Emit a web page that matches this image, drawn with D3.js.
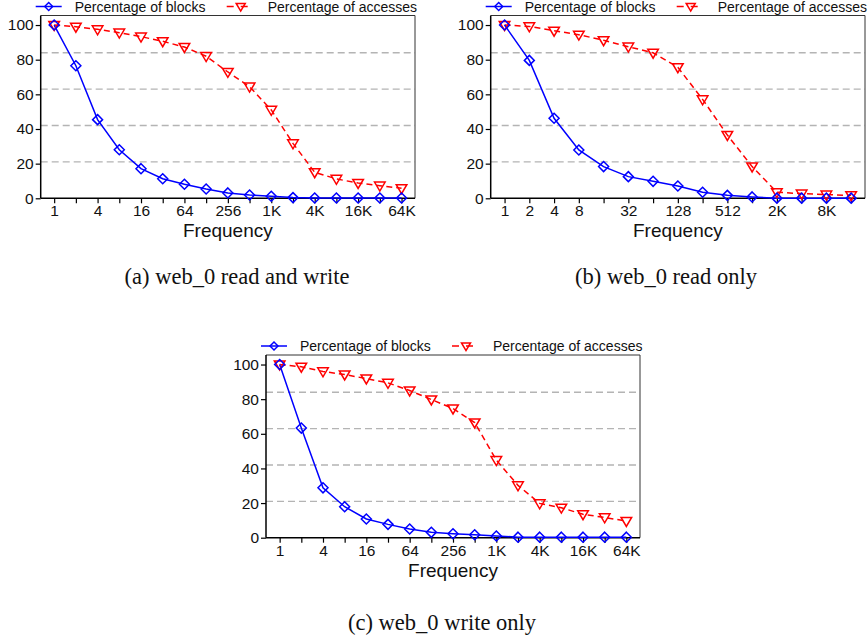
<!DOCTYPE html>
<html>
<head>
<meta charset="utf-8">
<script src="https://cdn.jsdelivr.net/npm/d3@7"></script>
<style>
  html, body { margin: 0; padding: 0; background: #fff; }
  svg { display: block; }
</style>
</head>
<body>
<svg id="chart" width="868" height="638"></svg>
<script>
// ---------------- DATA ----------------
const freqAC = ["1","2","4","8","16","32","64","128","256","512","1K","2K","4K","8K","16K","32K","64K"];
const tickLabelsAC = ["1","4","16","64","256","1K","4K","16K","64K"];
const freqB = ["1","2","4","8","16","32","64","128","256","512","1K","2K","4K","8K","16K"];
const tickLabelsB = ["1","2","4","8","32","128","512","2K","8K"];

const blocksA   = [100, 76.5, 45.4, 28, 17.1, 11.3, 8.1, 5.4, 3.1, 1.9, 1.2, 0.4, 0.2, 0.2, 0.2, 0.2, 0.2];
const accessesA = [100, 99, 97.5, 95.6, 93.3, 90.6, 87.3, 82, 72.9, 64.4, 51, 31.7, 15, 11.2, 8.8, 7.3, 5.8];

const blocksB   = [100, 79.6, 46.2, 27.9, 18.3, 12.5, 9.8, 7.1, 3.5, 1.7, 0.8, 0.1, 0.1, 0.1, 0.1];
const accessesB = [100, 99.2, 96.7, 94.4, 91.2, 87.5, 84, 75.6, 57.1, 36.5, 18.3, 3.5, 2.7, 2.1, 1.7];

const blocksC   = [100, 63.3, 28.8, 17.9, 10.8, 7.7, 5, 3.1, 2.3, 1.7, 1, 0.3, 0.3, 0.3, 0.3, 0.3, 0.3];
const accessesC = [100, 98.7, 96, 94.2, 91.9, 89.4, 85, 79.8, 74.6, 66.5, 44.8, 30.2, 19.8, 17.3, 13.5, 11.7, 9.6];

const yTicks = [0, 20, 40, 60, 80, 100];
const gridValues = [21, 42, 63, 84];
const seriesNames = ["Percentage of blocks", "Percentage of accesses"];
const xTitle = "Frequency";
const captions = ["(a) web_0 read and write", "(b) web_0 read only", "(c) web_0 write only"];

// ---------------- LAYOUT ----------------
const panels = [
  { freq: freqAC, ticks: tickLabelsAC, blocks: blocksA, acc: accessesA, x0: 40.7, x1: 415, top: 15.5, bot: 198.3, pad: 0.62, caption: captions[0], capX: 237, capY: 284 },
  { freq: freqB,  ticks: tickLabelsB,  blocks: blocksB, acc: accessesB, x0: 490.7, x1: 865, top: 15.5, bot: 198.3, pad: 0.56, caption: captions[1], capX: 666, capY: 284 },
  { freq: freqAC, ticks: tickLabelsAC, blocks: blocksC, acc: accessesC, x0: 266, x1: 640, top: 355, bot: 537.7, pad: 0.63, caption: captions[2], capX: 442, capY: 630 }
];

const BLUE = "#0000ff", RED = "#ff0000", GRID = "#b4b4b4";
const sans = "'Liberation Sans', Arial, Helvetica, sans-serif";
const serif = "'Liberation Serif', 'Times New Roman', serif";

const svg = d3.select("#chart");

const diamond = "M0,-5L5,0L0,5L-5,0Z";
const triangle = "M-5.3,-3.6L5.3,-3.6L0,5.4Z";

panels.forEach(p => {
  const g = svg.append("g");
  const x = d3.scalePoint().domain(p.freq).range([p.x0, p.x1]).padding(p.pad);
  const y = d3.scaleLinear().domain([0, 105.5]).range([p.bot, p.top]);

  // grid lines
  g.selectAll("line.grid").data(gridValues).enter().append("line")
    .attr("x1", p.x0).attr("x2", p.x1)
    .attr("y1", d => y(d)).attr("y2", d => y(d))
    .attr("stroke", GRID).attr("stroke-width", 1.4).attr("stroke-dasharray", "7,4");

  // frame top and right
  g.append("path")
    .attr("d", `M${p.x0},${p.top}H${p.x1}V${p.bot}`)
    .attr("fill", "none").attr("stroke", "#333").attr("stroke-width", 1);

  // x axis
  const xAxis = d3.axisBottom(x).tickSizeOuter(0).tickSize(5).tickPadding(2)
    .tickFormat(d => p.ticks.includes(d) ? d : "");
  const gx = g.append("g").attr("transform", `translate(0,${p.bot})`).call(xAxis);
  gx.select(".domain").attr("d", `M${p.x0},0H${p.x1}`).attr("stroke", "#000").attr("stroke-width", 1.5);
  gx.selectAll(".tick line").attr("stroke", "#000").attr("stroke-width", 1.2);
  gx.selectAll(".tick text").attr("font-family", sans).attr("font-size", 15.5).attr("fill", "#111");

  // y axis
  const yAxis = d3.axisLeft(y).tickValues(yTicks).tickSizeOuter(0).tickSize(5).tickPadding(2);
  const gy = g.append("g").attr("transform", `translate(${p.x0},0)`).call(yAxis);
  gy.select(".domain").attr("d", `M0,${p.top}V${p.bot}`).attr("stroke", "#000").attr("stroke-width", 1.5);
  gy.selectAll(".tick line").attr("stroke", "#000").attr("stroke-width", 1.2);
  gy.selectAll(".tick text").attr("font-family", sans).attr("font-size", 15.5).attr("fill", "#111");

  // x title
  g.append("text").attr("x", (p.x0 + p.x1) / 2).attr("y", p.bot + 39)
    .attr("text-anchor", "middle").attr("font-family", sans).attr("font-size", 19)
    .attr("fill", "#111").text(xTitle);

  const line = d3.line().x((d, i) => x(p.freq[i])).y(d => y(d));

  // accesses (red dashed)
  g.append("path").datum(p.acc).attr("d", line)
    .attr("fill", "none").attr("stroke", RED).attr("stroke-width", 1.5).attr("stroke-dasharray", "6,4");
  // blocks (blue solid)
  g.append("path").datum(p.blocks).attr("d", line)
    .attr("fill", "none").attr("stroke", BLUE).attr("stroke-width", 1.5);

  g.selectAll("path.tri").data(p.acc).enter().append("path")
    .attr("d", triangle)
    .attr("transform", (d, i) => `translate(${x(p.freq[i])},${y(d)})`)
    .attr("fill", "none").attr("stroke", RED).attr("stroke-width", 1.5);
  g.selectAll("path.dia").data(p.blocks).enter().append("path")
    .attr("d", diamond)
    .attr("transform", (d, i) => `translate(${x(p.freq[i])},${y(d)})`)
    .attr("fill", "none").attr("stroke", BLUE).attr("stroke-width", 1.5);

  // legend
  const ly = p.top - 9;
  const lg = g.append("g");
  lg.append("line").attr("x1", p.x0 - 5).attr("x2", p.x0 + 21).attr("y1", ly).attr("y2", ly)
    .attr("stroke", BLUE).attr("stroke-width", 1.5);
  lg.append("path").attr("d", diamond).attr("transform", `translate(${p.x0 + 8},${ly}) scale(0.8)`)
    .attr("fill", "none").attr("stroke", BLUE).attr("stroke-width", 1.8);
  lg.append("text").attr("x", p.x0 + 34).attr("y", ly + 5).attr("font-family", sans)
    .attr("font-size", 14).attr("fill", "#111").text(seriesNames[0]);
  lg.append("line").attr("x1", p.x0 + 186).attr("x2", p.x0 + 212).attr("y1", ly).attr("y2", ly)
    .attr("stroke", RED).attr("stroke-width", 1.5).attr("stroke-dasharray", "7,7");
  lg.append("path").attr("d", triangle).attr("transform", `translate(${p.x0 + 200},${ly}) scale(0.85)`)
    .attr("fill", "none").attr("stroke", RED).attr("stroke-width", 1.8);
  lg.append("text").attr("x", p.x0 + 227).attr("y", ly + 5).attr("font-family", sans)
    .attr("font-size", 14).attr("fill", "#111").text(seriesNames[1]);

  // caption
  svg.append("text").attr("x", p.capX).attr("y", p.capY).attr("text-anchor", "middle")
    .attr("font-family", serif).attr("font-size", 22.5).attr("fill", "#111").text(p.caption);
});
</script>
</body>
</html>
